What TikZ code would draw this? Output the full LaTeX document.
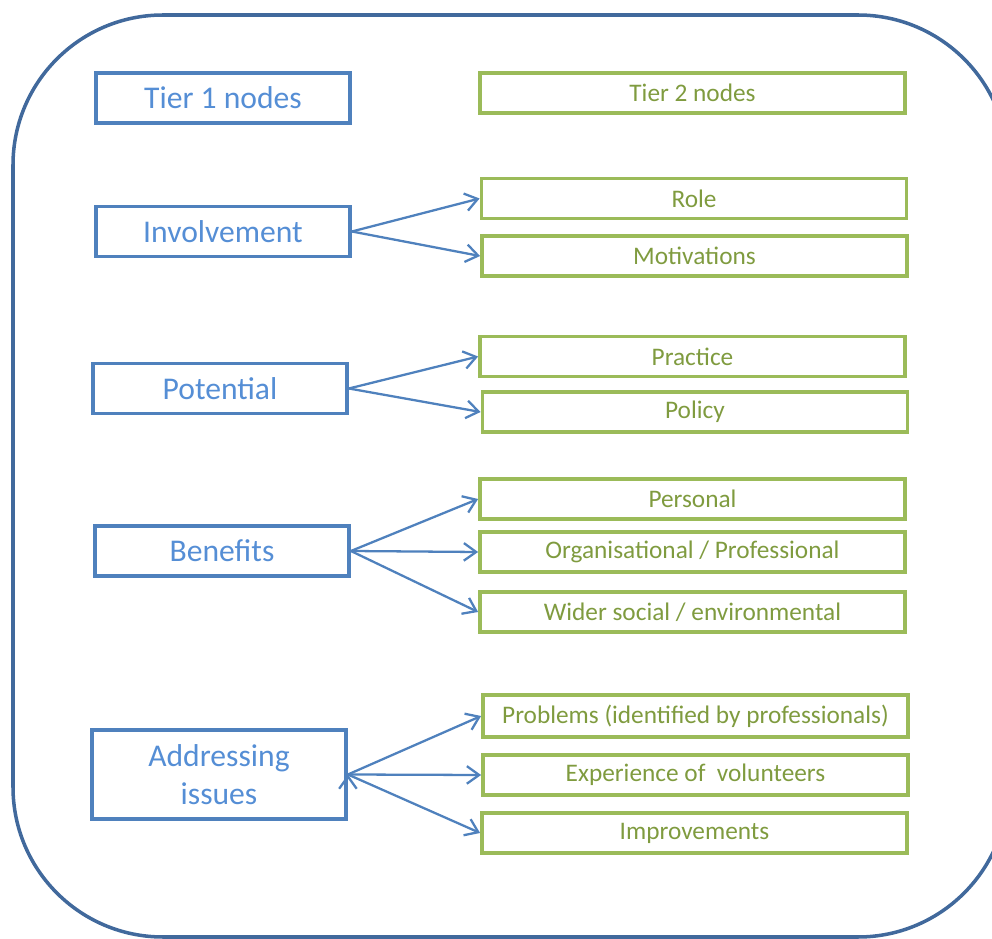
\documentclass[tikz,border=0pt]{standalone}
\usepackage{fontspec}
\setmainfont{Carlito}
\usetikzlibrary{arrows.meta}

\definecolor{frameblue}{HTML}{41699C}
\definecolor{oneblue}{HTML}{4F81BD}
\definecolor{onetext}{HTML}{558ED5}
\definecolor{twogreen}{HTML}{9BBB59}
\definecolor{twotext}{HTML}{7F9B3F}

\tikzset{
	tierone/.style={draw=oneblue, line width=2.2pt, text=onetext,
		minimum width=5.08cm, minimum height=1cm, inner sep=2pt, align=center,
		font=\fontsize{18}{22}\selectfont},
	tiertwo/.style={draw=twogreen, line width=2.2pt, text=twotext,
		minimum width=8.5cm, minimum height=0.8cm, inner sep=2pt,
		font=\fontsize{14.4}{17}\selectfont},
	link/.style={-{Straight Barb[length=7pt,width=10pt]}, draw=oneblue, line width=1.3pt}
}

\begin{document}
\begin{tikzpicture}[x=0.02cm, y=-0.02cm]
	\useasboundingbox (0,0) rectangle (992,939);
	\draw[frameblue, line width=2pt, rounded corners=3cm] (13,15) rectangle (1008,937);

	% headings
	\node[tierone] (tone) at (223,98) {Tier 1 nodes};
	\node[tiertwo] (ttwo) at (692.5,93) {Tier 2 nodes};

	% tier 1
	\node[tierone] (inv)  at (223,231.5) {Involvement};
	\node[tierone] (pot)  at (220,388.5) {Potential};
	\node[tierone] (ben)  at (222,551)   {Benefits};
	\node[tierone, minimum height=1.78cm] (addr) at (219,774.5) {Addressing\\issues};

	% tier 2
	\node[tiertwo] (role)  at (694,198.5)  {Role};
	\node[tiertwo] (motiv) at (694.5,256)  {Motivations};
	\node[tiertwo] (prac)  at (692.5,356.5) {Practice};
	\node[tiertwo] (pol)   at (695,412)    {Policy};
	\node[tiertwo] (pers)  at (692.5,499)  {Personal};
	\node[tiertwo] (org)   at (692.5,552)  {Organisational / Professional};
	\node[tiertwo] (wider) at (692.5,612)  {Wider social / environmental};
	\node[tiertwo, minimum height=0.84cm] (prob) at (695.5,716) {Problems (identified by professionals)};
	\node[tiertwo] (exp)   at (695.5,775)  {Experience of~~volunteers};
	\node[tiertwo] (impr)  at (694.5,833)  {Improvements};

	\path[link]
	(inv.east)  edge (role.west)
	(inv.east)  edge (motiv.west)
	(pot.east)  edge (prac.west)
	(pot.east)  edge (pol.west)
	(ben.east)  edge (pers.west)
	(ben.east)  edge (org.west)
	(ben.east)  edge (wider.west)
	(addr.east) edge (prob.west)
	(addr.east) edge (exp.west)
	(addr.east) edge (impr.west);
\end{tikzpicture}
\end{document}
